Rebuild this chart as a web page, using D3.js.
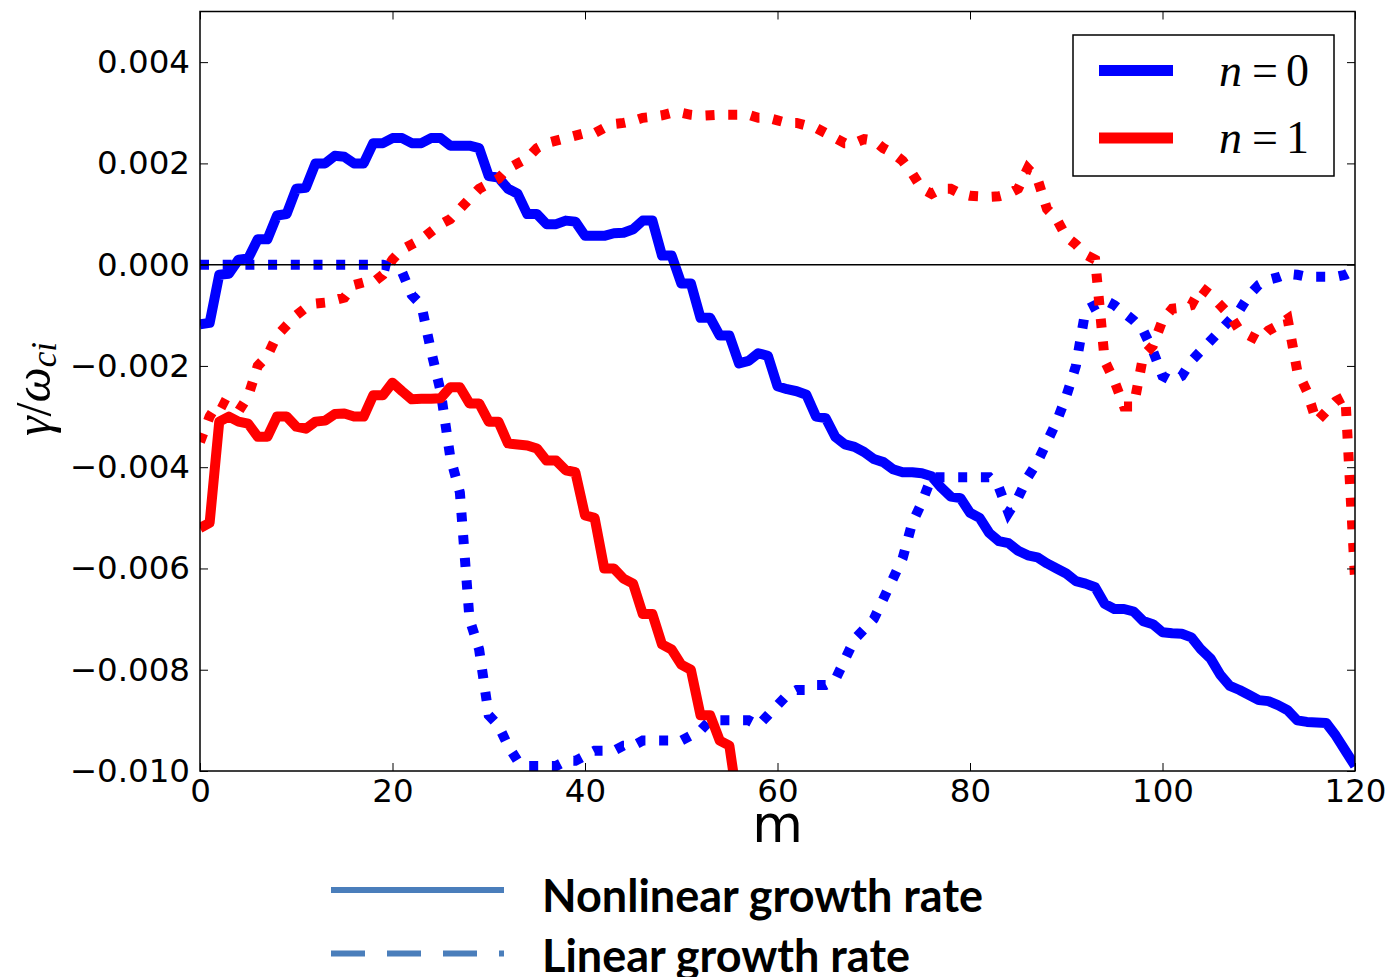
<!DOCTYPE html>
<html>
<head>
<meta charset="utf-8">
<script src="https://cdn.jsdelivr.net/npm/d3@7"></script>
<style>
  body { margin: 0; background: #fff; }
  svg { display: block; }
</style>
</head>
<body>
<svg id="chart" width="1388" height="977"></svg>
<script>
// mode number m (one sample per integer m)
const mValues = d3.range(0, 121);
const xTicks = [0, 20, 40, 60, 80, 100, 120];
const yTicks = [-0.010, -0.008, -0.006, -0.004, -0.002, 0.000, 0.002, 0.004];

// n = 0, nonlinear growth rate (blue solid)
const n0Nonlinear = [
  -0.00118, -0.00115, -0.0002, -0.00018, 0.0001, 0.00012, 0.0005, 0.0005, 0.00097, 0.001,
  0.0015, 0.00152, 0.002, 0.002, 0.00215, 0.00213, 0.002, 0.002, 0.0024, 0.0024,
  0.0025, 0.0025, 0.0024, 0.0024, 0.0025, 0.0025, 0.00235, 0.00235, 0.00235, 0.0023,
  0.00175, 0.00172, 0.0015, 0.0014, 0.001, 0.001, 0.0008, 0.0008, 0.00087, 0.00085,
  0.00057, 0.00057, 0.00057, 0.00062, 0.00063, 0.0007, 0.00087, 0.00087, 0.00018, 0.00018,
  -0.00037, -0.00037, -0.00105, -0.00105, -0.0014, -0.0014, -0.00195, -0.0019, -0.00175, -0.0018,
  -0.0024, -0.00246, -0.0025, -0.00257, -0.003, -0.00303, -0.0034, -0.00355, -0.0036, -0.0037,
  -0.00384, -0.0039, -0.00404, -0.0041, -0.0041, -0.00412, -0.00418, -0.0044, -0.00458, -0.00461,
  -0.0049, -0.005, -0.0053, -0.00546, -0.0055, -0.00565, -0.00574, -0.00578, -0.0059, -0.006,
  -0.0061, -0.00625, -0.0063, -0.00637, -0.0067, -0.0068, -0.0068, -0.00685, -0.00704, -0.0071,
  -0.00726, -0.00728, -0.00729, -0.00736, -0.0076, -0.00778, -0.0081, -0.00832, -0.0084, -0.0085,
  -0.0086, -0.00862, -0.0087, -0.0088, -0.009, -0.00903, -0.00904, -0.00905, -0.0093, -0.0096,
  -0.0099
];

// n = 1, nonlinear growth rate (red solid), runs off the bottom after m = 55
const n1Nonlinear = [
  -0.0052, -0.0051, -0.0031, -0.003, -0.0031, -0.00314, -0.0034, -0.0034, -0.003, -0.003,
  -0.0032, -0.00324, -0.0031, -0.00308, -0.00295, -0.00294, -0.003, -0.003, -0.00258, -0.00258,
  -0.00233, -0.0025, -0.00266, -0.00265, -0.00265, -0.00264, -0.00242, -0.00242, -0.00274, -0.00274,
  -0.0031, -0.0031, -0.00353, -0.00355, -0.00357, -0.00363, -0.00387, -0.00387, -0.00406, -0.0041,
  -0.00495, -0.005, -0.006, -0.006, -0.0062, -0.0063, -0.0069, -0.0069, -0.0075, -0.0076,
  -0.0079, -0.008, -0.0089, -0.0089, -0.0094, -0.0095, -0.0108
];

// n = 0, linear growth rate (blue dotted)
const n0Linear = [
  0, 0, 0, 0, 0, 0, 0, 0, 0, 0,
  0, 0, 0, 0, 0, 0, 0, 0, 0, 0,
  -0.00005, -0.00015, -0.0006, -0.0008, -0.0017, -0.0025, -0.0038, -0.0045, -0.007, -0.0076,
  -0.0089, -0.0091, -0.0095, -0.0098, -0.0099, -0.0099, -0.0099, -0.0099, -0.0098, -0.0098,
  -0.0097, -0.0096, -0.0096, -0.0096, -0.0095, -0.0095, -0.0094, -0.0094, -0.0094, -0.0094,
  -0.0094, -0.0093, -0.0092, -0.009, -0.009, -0.009, -0.009, -0.009, -0.0091, -0.0089,
  -0.0087, -0.0085, -0.0084, -0.0084, -0.0083, -0.0083, -0.0082, -0.0078, -0.0074, -0.0072,
  -0.007, -0.0066, -0.0062, -0.0058, -0.0051, -0.0047, -0.0042, -0.0042, -0.0042, -0.0042,
  -0.0042, -0.0042, -0.0042, -0.0044, -0.0049, -0.0046, -0.0042, -0.0039, -0.0035, -0.0031,
  -0.0026, -0.002, -0.0009, -0.0008, -0.0007, -0.0008, -0.00095, -0.0011, -0.0013, -0.0017,
  -0.0022, -0.0023, -0.0022, -0.0019, -0.0017, -0.0015, -0.0013, -0.0011, -0.0009, -0.0006,
  -0.0004, -0.0003, -0.00025, -0.00018, -0.0002, -0.00024, -0.00024, -0.00024, -0.00024, -0.0002,
  -0.0001
];

// n = 1, linear growth rate (red dotted)
const n1Linear = [
  -0.0035, -0.003, -0.0027, -0.0028, -0.0029, -0.0026, -0.002, -0.0018, -0.0014, -0.0012,
  -0.001, -0.00085, -0.00077, -0.00075, -0.0007, -0.00065, -0.0004, -0.00035, -0.00035, -0.0002,
  0.0001, 0.0003, 0.0004, 0.0005, 0.00065, 0.0008, 0.0009, 0.0011, 0.0013, 0.0015,
  0.0016, 0.0017, 0.0019, 0.002, 0.0021, 0.0023, 0.0024, 0.00245, 0.0025, 0.00255,
  0.0026, 0.0026, 0.0027, 0.00278, 0.0028, 0.00284, 0.0029, 0.00292, 0.00295, 0.003,
  0.003, 0.00296, 0.00294, 0.00295, 0.00296, 0.00296, 0.00296, 0.00296, 0.0029, 0.0029,
  0.00285, 0.0028, 0.0028, 0.00275, 0.0027, 0.0026, 0.0025, 0.0024, 0.0024, 0.00248,
  0.00245, 0.0023, 0.0022, 0.00205, 0.0018, 0.0015, 0.0014, 0.0015, 0.0015, 0.0014,
  0.00136, 0.00135, 0.00134, 0.00135, 0.0014, 0.0015, 0.0019, 0.0017, 0.0011, 0.0009,
  0.00055, 0.0004, 0.0002, 0.0001, -0.0019, -0.0023, -0.0028, -0.0028, -0.0018, -0.0016,
  -0.0011, -0.00087, -0.00085, -0.0008, -0.00045, -0.0006, -0.0008, -0.001, -0.0013, -0.0014,
  -0.0015, -0.0013, -0.0012, -0.00107, -0.0021, -0.0025, -0.0031, -0.0029, -0.0027, -0.0026,
  -0.0062
];

const legendLabels = ["0", "1"];
const seriesColors = ["#0000ff", "#ff0000"];
const bottomLabels = ["Nonlinear growth rate", "Linear growth rate"];

const svg = d3.select("#chart");

const plotLeft = 200, plotRight = 1355, plotTop = 11.5, plotBottom = 771;

const x = d3.scaleLinear().domain([0, 120]).range([plotLeft, plotRight]);
const y = d3.scaleLinear().domain([-0.010, 0.005]).range([plotBottom, plotTop]);

svg.append("defs").append("clipPath")
    .attr("id", "plot-clip")
    .append("rect")
    .attr("x", plotLeft)
    .attr("y", plotTop)
    .attr("width", plotRight - plotLeft)
    .attr("height", plotBottom - plotTop);

const plot = svg.append("g").attr("clip-path", "url(#plot-clip)");

const series = [
  { values: n0Nonlinear, color: seriesColors[0], dotted: false },
  { values: n0Linear, color: seriesColors[0], dotted: true },
  { values: n1Linear, color: seriesColors[1], dotted: true },
  { values: n1Nonlinear, color: seriesColors[1], dotted: false }
];

const line = d3.line()
    .x(d => x(d[0]))
    .y(d => y(d[1]));

series.forEach(s => {
  const pts = s.values.map((v, i) => [mValues[i], v]);
  plot.append("path")
      .datum(pts)
      .attr("fill", "none")
      .attr("stroke", s.color)
      .attr("stroke-width", 10)
      .attr("stroke-linejoin", s.dotted ? "miter" : "round")
      .attr("stroke-linecap", "butt")
      .attr("stroke-dasharray", s.dotted ? "9,13.7" : null)
      .attr("d", line);
});

// zero line
svg.append("line")
    .attr("x1", plotLeft)
    .attr("x2", plotRight)
    .attr("y1", y(0))
    .attr("y2", y(0))
    .attr("stroke", "black")
    .attr("stroke-width", 1.5);

// axes, ticks inside on all four sides
const tickFont = "'DejaVu Sans', sans-serif";

function styleAxis(g, hideLabels) {
  g.select(".domain").remove();
  g.selectAll(".tick line").attr("stroke", "black").attr("stroke-width", 1);
  g.selectAll(".tick text")
      .attr("fill", "black")
      .style("font-family", tickFont)
      .style("font-size", "32.5px");
  if (hideLabels) g.selectAll(".tick text").remove();
}

svg.append("g")
    .attr("transform", `translate(${plotLeft},0)`)
    .call(d3.axisLeft(y).tickValues(yTicks).tickFormat(d3.format(".3f")).tickSize(-8).tickPadding(10))
    .call(g => styleAxis(g, false));

svg.append("g")
    .attr("transform", `translate(${plotRight},0)`)
    .call(d3.axisRight(y).tickValues(yTicks).tickSize(-8))
    .call(g => styleAxis(g, true));

svg.append("g")
    .attr("transform", `translate(0,${plotBottom})`)
    .call(d3.axisBottom(x).tickValues(xTicks).tickFormat(d3.format("d")).tickSize(-8).tickPadding(8))
    .call(g => styleAxis(g, false));

svg.append("g")
    .attr("transform", `translate(0,${plotTop})`)
    .call(d3.axisTop(x).tickValues(xTicks).tickSize(-8))
    .call(g => styleAxis(g, true));

// frame
svg.append("rect")
    .attr("x", plotLeft)
    .attr("y", plotTop)
    .attr("width", plotRight - plotLeft)
    .attr("height", plotBottom - plotTop)
    .attr("fill", "none")
    .attr("stroke", "black")
    .attr("stroke-width", 1.5);

// axis titles
svg.append("text")
    .attr("x", (plotLeft + plotRight) / 2)
    .attr("y", 842)
    .attr("text-anchor", "middle")
    .style("font-family", tickFont)
    .style("font-size", "52px")
    .text("m");

const yTitle = svg.append("text")
    .attr("transform", "translate(50,389) rotate(-90)")
    .attr("text-anchor", "middle")
    .style("font-family", "'Liberation Serif', serif")
    .style("font-size", "50px");
yTitle.append("tspan").style("font-style", "italic").text("γ");
yTitle.append("tspan").text("/");
yTitle.append("tspan").style("font-style", "italic").text("ω");
yTitle.append("tspan")
    .style("font-style", "italic")
    .style("font-size", "35px")
    .attr("dy", 6)
    .text("ci");

// legend box
const legend = svg.append("g");
legend.append("rect")
    .attr("x", 1073)
    .attr("y", 35)
    .attr("width", 261)
    .attr("height", 141)
    .attr("fill", "white")
    .attr("stroke", "black")
    .attr("stroke-width", 1.5);

legendLabels.forEach((lab, i) => {
  const ly = 70.5 + i * 67.5;
  legend.append("line")
      .attr("x1", 1099)
      .attr("x2", 1173)
      .attr("y1", ly)
      .attr("y2", ly)
      .attr("stroke", seriesColors[i])
      .attr("stroke-width", 11);
  const t = legend.append("text")
      .attr("x", 1219)
      .attr("y", ly + 15)
      .style("font-family", "'Liberation Serif', serif")
      .style("font-size", "46px");
  t.append("tspan").style("font-style", "italic").text("n");
  t.append("tspan").attr("dx", 10).text("=");
  t.append("tspan").attr("dx", 8).text(lab);
});

// legend for line styles below the chart
const key = svg.append("g");
[890, 953.5].forEach((ky, i) => {
  key.append("line")
      .attr("x1", 331)
      .attr("x2", 504)
      .attr("y1", ky)
      .attr("y2", ky)
      .attr("stroke", "#4a7ebb")
      .attr("stroke-width", 6)
      .attr("stroke-dasharray", i === 1 ? "34,22" : null);
  key.append("text")
      .attr("x", 542)
      .attr("y", i === 0 ? 912 : 972)
      .style("font-family", "Lato, 'Open Sans', sans-serif")
      .style("font-weight", "bold")
      .style("font-size", "45px")
      .text(bottomLabels[i]);
});
</script>
</body>
</html>
